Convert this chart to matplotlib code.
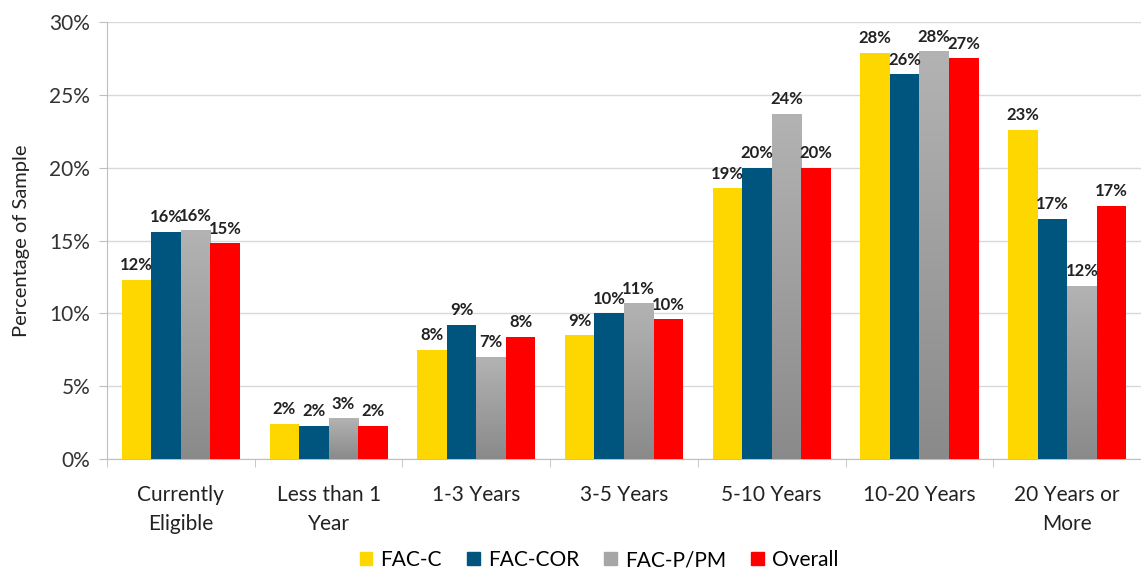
import matplotlib.pyplot as plt
import numpy as np
from matplotlib.patches import Patch
from matplotlib.colors import LinearSegmentedColormap

categories = ['Currently\nEligible', 'Less than 1\nYear', '1-3 Years', '3-5 Years',
              '5-10 Years', '10-20 Years', '20 Years or\nMore']
series = ['FAC-C', 'FAC-COR', 'FAC-P/PM', 'Overall']
fac_c = [12.3, 2.4, 7.5, 8.5, 18.6, 27.9, 22.6]
fac_cor = [15.6, 2.3, 9.2, 10.0, 20.0, 26.4, 16.5]
fac_ppm = [15.7, 2.8, 7.0, 10.7, 23.7, 28.0, 11.9]
overall = [14.8, 2.3, 8.4, 9.6, 20.0, 27.5, 17.4]
labels_c = ['12%', '2%', '8%', '9%', '19%', '28%', '23%']
labels_cor = ['16%', '2%', '9%', '10%', '20%', '26%', '17%']
labels_ppm = ['16%', '3%', '7%', '11%', '24%', '28%', '12%']
labels_all = ['15%', '2%', '8%', '10%', '20%', '27%', '17%']

colors = ['#FFD700', '#00557F', '#A6A6A6', '#FF0000']
plt.rcParams['font.family'] = ['Lato', 'DejaVu Sans']

fig = plt.figure(figsize=(11.41, 5.69), dpi=100)
ax = fig.add_axes([0.0938, 0.1933, 0.9062, 0.768])

x = np.arange(len(categories))
w = 0.2
data = [fac_c, fac_cor, fac_ppm, overall]
labels = [labels_c, labels_cor, labels_ppm, labels_all]

# gray series is drawn with a vertical gradient like the original
grad = np.linspace(0, 1, 256).reshape(-1, 1)
gcmap = LinearSegmentedColormap.from_list('g', ['#8A8A8A', '#B3B3B3'])

for i, (vals, labs) in enumerate(zip(data, labels)):
    pos = x + (i - 1.5) * w
    if i == 2:
        bars = ax.bar(pos, vals, w, color='none', edgecolor='none', zorder=3)
        for b in bars:
            im = ax.imshow(grad, cmap=gcmap, origin='lower', aspect='auto',
                           extent=[b.get_x(), b.get_x() + b.get_width(), 0, b.get_height()],
                           zorder=3)
            im.set_clip_path(b)
    else:
        bars = ax.bar(pos, vals, w, color=colors[i], zorder=3)
    for p, v, t in zip(pos, vals, labs):
        ax.text(p, v + 0.45, t, ha='center', va='bottom', fontsize=12,
                fontweight='bold', color='#222222', zorder=4)

ax.set_xlim(-0.5, len(categories) - 0.5)
ax.set_ylim(0, 30)
ax.set_yticks(range(0, 31, 5))
ax.set_yticklabels([f'{v}%' for v in range(0, 31, 5)], fontsize=15, color='#333333')
ax.set_xticks(x)
ax.set_xticklabels(categories, fontsize=15, color='#222222', linespacing=1.55)
ax.tick_params(axis='x', length=0, pad=19)
ax.set_xticks(np.arange(-0.5, len(categories), 1), minor=True)
ax.tick_params(axis='x', which='minor', length=6, color='#BFBFBF')
ax.tick_params(axis='y', length=6, color='#BFBFBF', pad=6)
ax.grid(axis='y', color='#D9D9D9', linewidth=1, zorder=0)
ax.set_ylabel('Percentage of Sample', fontsize=14.5, color='#222222', labelpad=14)

for s in ['top', 'right']:
    ax.spines[s].set_visible(False)
ax.spines['left'].set_color('#BFBFBF')
ax.spines['bottom'].set_color('#BFBFBF')

handles = [Patch(color=c) for c in colors]
fig.legend(handles, series, loc='lower center', ncol=4, frameon=False,
           fontsize=15, bbox_to_anchor=(0.525, -0.035), handlelength=0.6,
           handleheight=0.6, handletextpad=0.4, columnspacing=1.2)

fig.savefig('out.png', dpi=100)
